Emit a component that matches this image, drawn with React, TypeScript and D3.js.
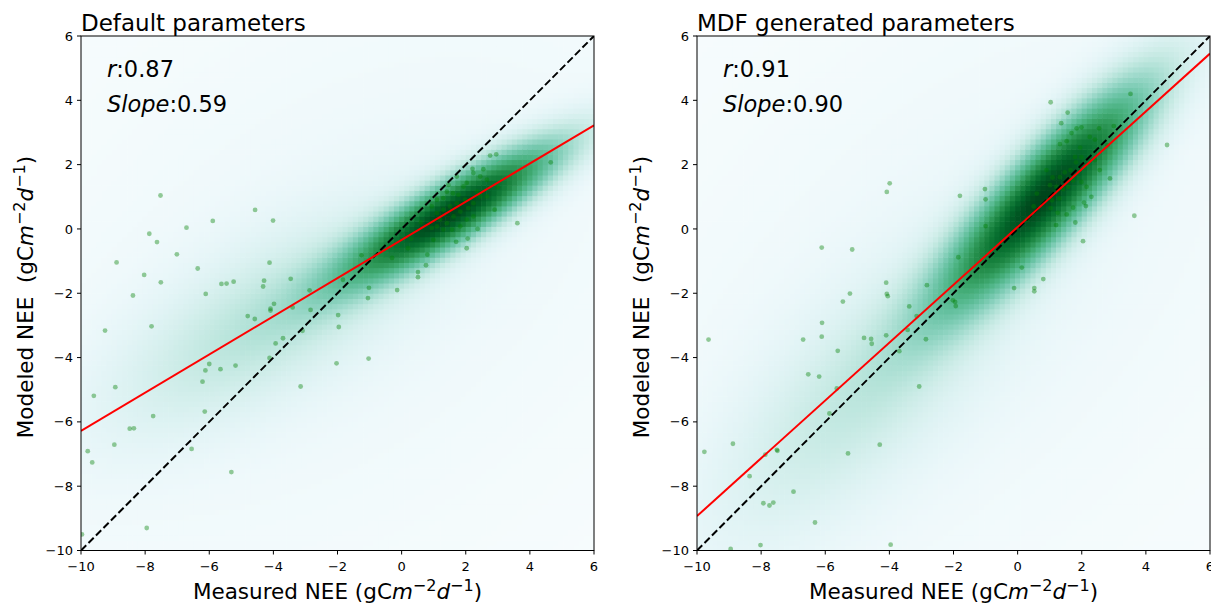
import React, { useEffect, useRef } from "react";
import * as d3 from "d3";

// ---------- data ----------
const axisTicks = [-10, -8, -6, -4, -2, 0, 2, 4, 6];
const axisDomain: [number, number] = [-10, 6];
const panelTitles = ["Default parameters", "MDF generated parameters"];
const rValues = ["0.87", "0.91"];
const slopeLabels = ["0.59", "0.90"];
const fitSlopes = [0.594, 0.899];
const fitIntercepts = [-0.34, 0.06];

const leftPoints: [number, number][] = [
  [-7.52, 1.04], [-4.57, 0.59], [-4.01, 0.26], [-5.89, 0.25], [-6.71, 0.04], [-7.87, -0.15],
  [-7.63, -0.41], [-8.89, -1.04], [-7.01, -0.79], [-8.03, -1.43], [-7.51, -1.66], [-6.36, -1.23],
  [-4.12, -1.05], [-3.46, -1.55], [-8.38, -2.07], [-6.11, -2.02], [-5.62, -1.71], [-5.46, -1.7],
  [-5.24, -1.64], [-4.29, -1.61], [-4.32, -1.79], [-2.87, -1.91], [-2.84, -2.52], [-3.98, -2.33],
  [-4.09, -2.48], [-4.09, -2.54], [-4.8, -2.71], [-4.58, -2.8], [-3.4, -2.44], [-9.25, -3.16],
  [-7.8, -3.03], [-3.93, -3.56], [-3.7, -3.4], [-3.09, -3.17], [-1.98, -2.68], [-1.96, -3.05],
  [-6.0, -4.2], [-6.12, -4.4], [-5.65, -4.36], [-5.18, -4.25], [-6.21, -4.75], [-4.12, -4.01],
  [-2.03, -4.18], [-3.15, -4.9], [-8.93, -4.92], [-9.6, -5.19], [-7.75, -5.82], [-8.48, -6.21],
  [-8.35, -6.2], [-8.96, -6.71], [-9.79, -6.91], [-9.65, -7.26], [-6.14, -5.68], [-6.55, -6.84],
  [-5.31, -7.56], [-7.95, -9.3], [-9.97, -9.5],
  [4.65, 2.07], [2.76, 2.28], [2.95, 2.32], [3.61, 0.18], [2.21, 1.87], [2.55, 1.86],
  [-1.25, -0.82], [-1.02, -1.83], [-1.05, -2.15], [-0.14, -1.9], [0.51, -1.34], [0.51, -1.5],
  [0.76, -1.13], [1.7, -0.4], [2.03, -0.6], [2.06, -0.3], [2.37, 0.0], [-1.03, -4.03], [-1.83, -1.58],
  [1.41, 1.16], [1.6, 1.11], [1.77, 1.06], [1.93, 1.32], [2.03, 1.43], [1.98, 0.91], [1.72, 0.8],
  [1.51, 0.7], [1.3, 0.6], [1.1, 0.49], [1.2, 0.29], [1.41, 0.18], [1.62, 0.39], [1.83, 0.54],
  [2.08, 0.65], [2.24, 0.8], [2.45, 1.01], [1.3, -0.02], [1.1, 0.08], [0.94, 0.03], [1.57, -0.02],
  [1.83, 0.08], [2.03, 0.29], [2.24, 0.39], [0.94, 0.7], [1.1, 0.91], [1.3, 0.96], [2.45, 1.63],
  [2.24, 1.74], [2.66, 1.53], [1.72, 1.63], [1.46, 1.37], [0.99, -0.34], [2.35, 1.16], [2.66, 1.01],
  [0.3, -0.3], [0.6, 0.2], [0.2, -0.6], [3.0, 1.3], [2.9, 0.6], [0.8, -0.8], [-0.3, -0.9],
];

const rightPoints: [number, number][] = [
  [-3.99, 1.42], [-4.08, 1.15], [-6.11, -0.58], [-5.16, -0.64], [-4.1, -1.67], [-4.08, -2.02],
  [-4.05, -2.09], [-5.23, -2.01], [-5.45, -2.26], [-2.83, -1.75], [-3.38, -2.41], [-6.1, -2.92],
  [-6.11, -3.35], [-6.69, -3.44], [-9.64, -3.44], [-4.79, -3.39], [-4.57, -3.42], [-4.55, -3.57],
  [-4.1, -3.31], [-3.15, -2.71], [-3.43, -3.14], [-5.61, -3.79], [-3.69, -3.8], [-2.86, -3.43],
  [-6.53, -4.52], [-6.19, -4.59], [-3.07, -4.9], [-5.64, -4.96], [-5.87, -5.74], [-8.36, -7.69],
  [-8.88, -6.68], [-9.77, -6.93], [-7.87, -7.02], [-7.51, -6.87], [-7.49, -6.9], [-5.29, -6.98],
  [-4.3, -6.71], [-6.99, -8.17], [-7.93, -8.53], [-7.62, -8.51], [-7.74, -8.6], [-6.32, -9.13],
  [-8.02, -9.83], [-8.95, -9.95], [-3.96, -9.82],
  [1.03, 3.94], [1.56, 3.62], [1.36, 3.29], [3.52, 4.2], [4.66, 2.61], [3.64, 0.41], [2.88, 1.57],
  [2.04, -0.38], [1.2, 0.12], [-1.02, 1.24], [-1.0, 0.92], [-1.8, 1.03], [-1.0, 0.09], [-1.85, -0.88],
  [0.13, -1.2], [0.8, -1.56], [-0.11, -1.84], [0.52, -1.84], [0.52, -1.94], [-2.02, -2.22],
  [-1.95, -2.27], [-1.93, -2.4],
  [1.68, 2.98], [1.84, 3.13], [1.99, 3.16], [1.53, 2.73], [1.32, 2.64], [1.95, 2.53], [1.79, 2.24],
  [1.99, 2.23], [1.82, 2.07], [1.65, 1.83], [1.47, 1.76], [1.32, 1.61], [1.09, 1.6], [0.9, 1.83],
  [1.01, 1.36], [1.21, 1.31], [1.42, 1.24], [1.58, 1.31], [1.73, 1.51], [1.99, 1.46], [2.15, 1.31],
  [2.07, 0.82], [2.13, 0.71], [1.73, 0.66], [1.53, 0.45], [1.3, 0.95], [1.07, 0.89], [1.03, 0.65],
  [2.25, 2.86], [2.41, 2.78], [2.54, 3.13], [2.41, 2.14], [2.56, 1.83], [1.25, 0.5], [0.5, 0.7],
  [0.6, 1.1], [2.8, 2.6], [3.0, 3.2], [0.3, 0.3], [2.3, 1.0], [1.8, 0.2],
];

// density components (centre, orientation in degrees, spreads, weight, shape exponent)
type Comp = { cx: number; cy: number; angle: number; sa: number; sb: number; w: number; p: number };
const leftDensity: Comp[] = [
  { cx: 1.7, cy: 0.6, angle: 31, sa: 2.9, sb: 0.68, w: 1, p: 1.05 },
  { cx: -4.3, cy: -2.9, angle: 31, sa: 4.2, sb: 1.6, w: 0.26, p: 1 },
  { cx: -2, cy: -1.5, angle: 38, sa: 9, sb: 5.5, w: 0.08, p: 1 },
];
const rightDensity: Comp[] = [
  { cx: 0.95, cy: 1.15, angle: 47, sa: 3.4, sb: 0.92, w: 1, p: 1.05 },
  { cx: -5, cy: -5.2, angle: 45, sa: 4.5, sb: 1.8, w: 0.22, p: 1 },
  { cx: -2, cy: -2, angle: 45, sa: 10, sb: 5.5, w: 0.08, p: 1 },
];

const panels = [
  { x0: 81, x1: 594, points: leftPoints, density: leftDensity, labelX: 33 },
  { x0: 697, x1: 1210, points: rightPoints, density: rightDensity, labelX: 649 },
];
const Y0 = 36;
const Y1 = 550.5;
const GRID = 100;
const FONT = "DejaVu Sans, sans-serif";

function densityAt(comps: Comp[], x: number, y: number) {
  let s = 0;
  for (const c of comps) {
    const a = (c.angle * Math.PI) / 180;
    const dx = x - c.cx;
    const dy = y - c.cy;
    const u = dx * Math.cos(a) + dy * Math.sin(a);
    const v = -dx * Math.sin(a) + dy * Math.cos(a);
    const q = (u / c.sa) ** 2 + (v / c.sb) ** 2;
    s += c.w * Math.exp(-0.5 * Math.pow(q, c.p));
  }
  return s;
}

const fmt = (d: number) => (d < 0 ? "\u2212" + Math.abs(d) : String(d));

function Panel({ idx }: { idx: number }) {
  const p = panels[idx];
  const gRef = useRef<SVGGElement>(null);
  const x = d3.scaleLinear().domain(axisDomain).range([p.x0, p.x1]);
  const y = d3.scaleLinear().domain(axisDomain).range([Y1, Y0]);

  useEffect(() => {
    const g = d3.select(gRef.current);
    g.selectAll("*").remove();
    const step = (axisDomain[1] - axisDomain[0]) / GRID;
    const cells: { gx: number; gy: number; v: number }[] = [];
    for (let i = 0; i < GRID; i++) {
      for (let j = 0; j < GRID; j++) {
        const cx = axisDomain[0] + (i + 0.5) * step;
        const cy = axisDomain[0] + (j + 0.5) * step;
        cells.push({ gx: axisDomain[0] + i * step, gy: axisDomain[0] + (j + 1) * step, v: densityAt(p.density, cx, cy) });
      }
    }
    const max = d3.max(cells, (c) => c.v) || 1;
    const color = d3.scaleSequential(d3.interpolateBuGn).domain([0, max]);
    const w = x(axisDomain[0] + step) - x(axisDomain[0]);
    const h = y(axisDomain[0]) - y(axisDomain[0] + step);
    g.selectAll("rect")
      .data(cells)
      .join("rect")
      .attr("x", (c) => x(c.gx))
      .attr("y", (c) => y(c.gy))
      .attr("width", w + 0.6)
      .attr("height", h + 0.6)
      .attr("fill", (c) => color(c.v));
  }, [idx]);

  const clipId = `clip${idx}`;
  const slope = fitSlopes[idx];
  const icpt = fitIntercepts[idx];
  const cxMid = (p.x0 + p.x1) / 2;
  const cyMid = 297;

  return (
    <g>
      <defs>
        <clipPath id={clipId}>
          <rect x={p.x0} y={Y0} width={p.x1 - p.x0} height={Y1 - Y0} />
        </clipPath>
      </defs>
      <g clipPath={`url(#${clipId})`}>
        <g ref={gRef} />
        {p.points.map((d, i) => (
          <circle key={i} cx={x(d[0])} cy={y(d[1])} r={2.4} fill="rgb(0,128,0)" fillOpacity={0.4} />
        ))}
        <line
          x1={x(axisDomain[0])} y1={y(axisDomain[0])} x2={x(axisDomain[1])} y2={y(axisDomain[1])}
          stroke="#000" strokeWidth={2} strokeDasharray="7.4,3.2"
        />
        <line
          x1={x(axisDomain[0])} y1={y(slope * axisDomain[0] + icpt)}
          x2={x(axisDomain[1])} y2={y(slope * axisDomain[1] + icpt)}
          stroke="#ff0000" strokeWidth={2}
        />
      </g>
      <rect x={p.x0} y={Y0} width={p.x1 - p.x0} height={Y1 - Y0} fill="none" stroke="#000" strokeWidth={1} />
      {axisTicks.map((t) => (
        <g key={"x" + t}>
          <line x1={x(t)} x2={x(t)} y1={Y1} y2={Y1 + 4} stroke="#000" />
          <text x={x(t)} y={571} textAnchor="middle" fontSize={13} fontFamily={FONT}>{fmt(t)}</text>
        </g>
      ))}
      {axisTicks.map((t) => (
        <g key={"y" + t}>
          <line x1={p.x0 - 4} x2={p.x0} y1={y(t)} y2={y(t)} stroke="#000" />
          <text x={p.x0 - 8} y={y(t) + 4.6} textAnchor="end" fontSize={13} fontFamily={FONT}>{fmt(t)}</text>
        </g>
      ))}
      <text x={p.x0} y={31} fontSize={23} fontFamily={FONT}>{panelTitles[idx]}</text>
      <text x={p.x0 + 26} y={77} fontSize={22.5} fontFamily={FONT}>
        <tspan fontStyle="italic">r</tspan>:{rValues[idx]}
      </text>
      <text x={p.x0 + 26} y={112} fontSize={22.5} fontFamily={FONT}>
        <tspan fontStyle="italic">Slope</tspan>:{slopeLabels[idx]}
      </text>
      <text x={cxMid} y={599} textAnchor="middle" fontSize={21.5} fontFamily={FONT}>
        Measured NEE (gC<tspan fontStyle="italic">m</tspan>
        <tspan fontSize={16} dy={-8}>{"\u22122"}</tspan>
        <tspan fontStyle="italic" dy={8}>d</tspan>
        <tspan fontSize={16} dy={-8}>{"\u22121"}</tspan>
        <tspan dy={8}>)</tspan>
      </text>
      <text
        transform={`translate(${p.labelX},${cyMid}) rotate(-90)`}
        textAnchor="middle" fontSize={21.5} fontFamily={FONT} style={{ whiteSpace: "pre" }}
      >
        {"Modeled NEE  (gC"}<tspan fontStyle="italic">m</tspan>
        <tspan fontSize={16} dy={-8}>{"\u22122"}</tspan>
        <tspan fontStyle="italic" dy={8}>d</tspan>
        <tspan fontSize={16} dy={-8}>{"\u22121"}</tspan>
        <tspan dy={8}>)</tspan>
      </text>
    </g>
  );
}

export default function App() {
  return (
    <svg
      width={1211}
      height={604}
      style={{ position: "absolute", left: 0, top: 0, background: "#fff" }}
    >
      <rect width={1211} height={604} fill="#fff" />
      <Panel idx={0} />
      <Panel idx={1} />
    </svg>
  );
}
